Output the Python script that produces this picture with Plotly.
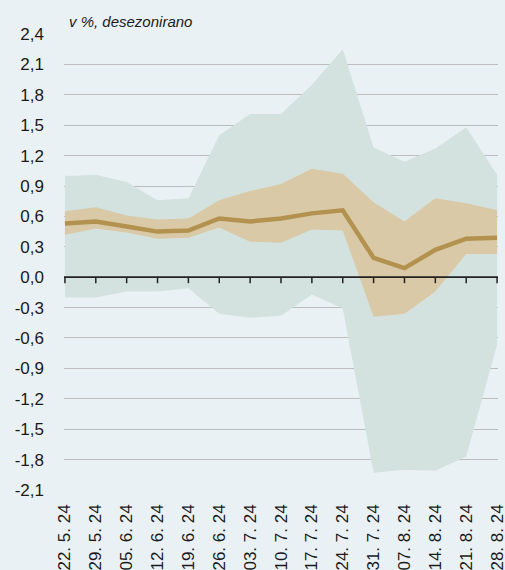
import plotly.graph_objects as go

dates = ["22. 5. 24", "29. 5. 24", "05. 6. 24", "12. 6. 24", "19. 6. 24", "26. 6. 24",
         "03. 7. 24", "10. 7. 24", "17. 7. 24", "24. 7. 24", "31. 7. 24", "07. 8. 24",
         "14. 8. 24", "21. 8. 24", "28. 8. 24"]
median = [0.53, 0.55, 0.50, 0.45, 0.46, 0.58, 0.55, 0.58, 0.63, 0.66, 0.19, 0.09, 0.27, 0.38, 0.39]
inner_upper = [0.65, 0.69, 0.61, 0.57, 0.58, 0.76, 0.85, 0.92, 1.07, 1.02, 0.74, 0.55, 0.78, 0.73, 0.66]
inner_lower = [0.42, 0.48, 0.44, 0.38, 0.39, 0.49, 0.35, 0.34, 0.47, 0.46, -0.39, -0.36, -0.14, 0.23, 0.23]
outer_upper = [1.00, 1.01, 0.94, 0.76, 0.78, 1.40, 1.61, 1.61, 1.90, 2.25, 1.28, 1.14, 1.27, 1.48, 1.01]
outer_lower = [-0.20, -0.20, -0.14, -0.14, -0.11, -0.36, -0.40, -0.38, -0.17, -0.31, -1.93, -1.90, -1.91, -1.77, -0.67]

y_ticks = [2.4, 2.1, 1.8, 1.5, 1.2, 0.9, 0.6, 0.3, 0.0, -0.3, -0.6, -0.9, -1.2, -1.5, -1.8, -2.1]
y_ticktext = ["2,4", "2,1", "1,8", "1,5", "1,2", "0,9", "0,6", "0,3", "0,0", "-0,3", "-0,6",
              "-0,9", "-1,2", "-1,5", "-1,8", "-2,1"]
subtitle = "v %, desezonirano"

x = list(range(len(dates)))
BG = "#eaf1f4"
GREEN = "#d3e2de"
TAN = "#d9c9a6"
LINE = "#b39250"
AXIS = "#222222"
FONT = "Liberation Sans, Arial, sans-serif"

fig = go.Figure()
fig.add_trace(go.Scatter(x=x, y=outer_lower, mode="lines", line=dict(width=0),
                         hoverinfo="skip", showlegend=False))
fig.add_trace(go.Scatter(x=x, y=outer_upper, mode="lines", line=dict(width=0),
                         fill="tonexty", fillcolor=GREEN, hoverinfo="skip", showlegend=False))
fig.add_trace(go.Scatter(x=x, y=inner_lower, mode="lines", line=dict(width=0),
                         hoverinfo="skip", showlegend=False))
fig.add_trace(go.Scatter(x=x, y=inner_upper, mode="lines", line=dict(width=0),
                         fill="tonexty", fillcolor=TAN, hoverinfo="skip", showlegend=False))
fig.add_trace(go.Scatter(x=x, y=median, mode="lines", line=dict(width=4.5, color=LINE),
                         hoverinfo="skip", showlegend=False))

ymin, ymax = -2.1005, 2.4005
xr = [-0.03, len(dates) - 1 + 0.03]

# category axis baseline at value 0, with short downward tick marks at each category
shapes = [dict(type="line", xref="paper", yref="y", x0=0, x1=1, y0=0, y1=0,
               line=dict(color=AXIS, width=1.8), layer="above")]
for xi in x:
    shapes.append(dict(type="line", xref="x", yref="y", x0=xi, x1=xi,
                       ysizemode="pixel", yanchor=0, y0=0, y1=-6,
                       line=dict(color=AXIS, width=1.5), layer="above"))

fig.update_layout(
    width=505, height=570,
    margin=dict(l=64, r=7, t=34, b=80),
    paper_bgcolor=BG, plot_bgcolor=BG,
    font=dict(family=FONT, color="#1a1a1a"),
    hovermode=False,
    shapes=shapes,
    xaxis=dict(range=xr, tickmode="array", tickvals=x, ticktext=dates, tickangle=-90,
               showgrid=False, zeroline=False, showline=False, ticks="",
               automargin=False, ticklabelstandoff=10, ticklabeloverflow="allow",
               tickfont=dict(size=17, family=FONT)),
    yaxis=dict(range=[ymin, ymax], tickmode="array", tickvals=y_ticks, ticktext=y_ticktext,
               showgrid=True, gridcolor="#bdbdbd", gridwidth=1.2, zeroline=False,
               showline=False, ticks="", ticklabelstandoff=19, automargin=False,
               tickfont=dict(size=17, family=FONT)),
    annotations=[dict(text=subtitle, xref="paper", yref="paper", x=0.006, y=1.0,
                      xanchor="left", yanchor="bottom", showarrow=False, yshift=2,
                      font=dict(size=15, family=FONT, color="#1a1a1a", style="italic"))],
)

fig.write_html(
    "out.html",
    config={"displayModeBar": False},
    post_script="document.body.style.margin='0';document.body.style.background='#eaf1f4';",
)
